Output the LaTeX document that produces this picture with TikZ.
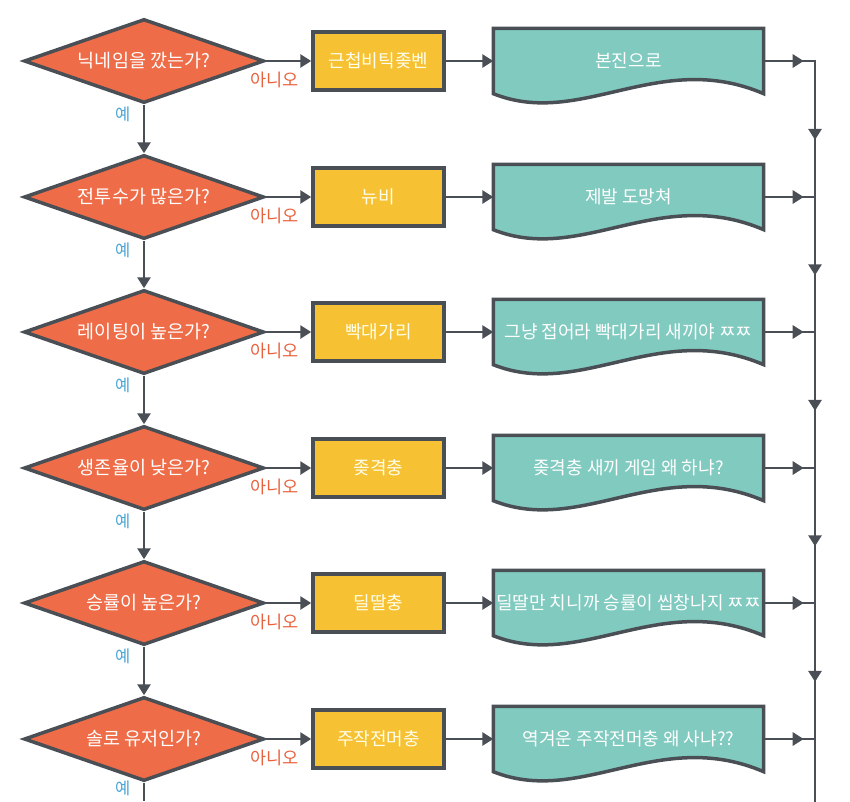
\documentclass[tikz,border=0pt]{standalone}
\usepackage{fontspec}
\usetikzlibrary{arrows.meta,backgrounds,decorations.markings,shapes.geometric}
\newfontfamily\kofont{Noto Sans CJK KR}
\definecolor{QFill}{HTML}{EE6C47}
\definecolor{BoxFill}{HTML}{F6C233}
\definecolor{DocFill}{HTML}{80CABF}
\definecolor{LineGray}{HTML}{4A4F56}
\definecolor{YesBlue}{HTML}{4BA6D6}
\definecolor{NoRed}{HTML}{E8613D}
\tikzset{
  fc question/.style={
    diamond,
    aspect=2.8,
    draw=LineGray,
    fill=QFill,
    line width=3.5pt,
    minimum width=240pt,
    minimum height=84pt,
    inner sep=0pt,
    text=white,
    font=\kofont\fontsize{18.5}{20}\selectfont
  },
  fc answer/.style={
    draw=LineGray,
    fill=BoxFill,
    line width=3.5pt,
    minimum width=131pt,
    minimum height=58pt,
    inner sep=0pt,
    text=white!92!yellow,
    font=\kofont\fontsize{18}{20}\selectfont
  },
  fc doc/.style={
    minimum width=270pt,
    minimum height=65pt,
    inner sep=0pt,
    text=white,
    font=\kofont\fontsize{18}{20}\selectfont
  },
  fc docline/.style={
    draw=LineGray,
    fill=DocFill,
    line width=3.5pt,
    line join=miter
  },
  fc flow/.style={
    -{Triangle[length=11pt,width=13pt]},
    draw=LineGray,
    line width=2.8pt
  },
  fc mid/.style={
    draw=LineGray,
    line width=2.8pt,
    line cap=rect,
    postaction={decorate},
    decoration={markings,
      mark=at position #1 with {\arrow[LineGray]{Triangle[length=11pt,width=13pt]}}}
  },
  fc yes/.style={text=YesBlue, font=\kofont\fontsize{16.5}{18}\selectfont},
  fc no/.style={text=NoRed, font=\kofont\fontsize{17.5}{19}\selectfont}
}

\begin{document}
\begin{tikzpicture}[x=1pt, y=-1pt]
  \useasboundingbox (0,0) rectangle (850,801);

  % questions
  \node[fc question] (q1) at (144,61) {닉네임을 깠는가?};
  \node[fc question] (q2) at (144,197) {전투수가 많은가?};
  \node[fc question] (q3) at (144,332) {레이팅이 높은가?};
  \node[fc question] (q4) at (144,468) {생존율이 낮은가?};
  \node[fc question] (q5) at (144,603) {승률이 높은가?};
  \node[fc question] (q6) at (144,739) {솔로 유저인가?};

  % answers
  \node[fc answer] (b1) at (378.5,61) {근첩비틱좆벤};
  \node[fc answer] (b2) at (378.5,197) {뉴비};
  \node[fc answer] (b3) at (378.5,332) {빡대가리};
  \node[fc answer] (b4) at (378.5,468) {좆격충};
  \node[fc answer] (b5) at (378.5,603) {딜딸충};
  \node[fc answer] (b6) at (378.5,739) {주작전머충};

  % documents
  \node[fc doc] (d1) at (628.5,61) {본진으로};
  \node[fc doc] (d2) at (628.5,197) {제발 도망쳐};
  \node[fc doc] (d3) at (628.5,332) {그냥 접어라 빡대가리 새끼야 ㅉㅉ};
  \node[fc doc] (d4) at (628.5,468) {좆격충 새끼 게임 왜 하냐?};
  \node[fc doc] (d5) at (628.5,603) {딜딸만 치니까 승률이 씹창나지 ㅉㅉ};
  \node[fc doc] (d6) at (628.5,739) {역겨운 주작전머충 왜 사냐??};

  \begin{scope}[on background layer]
    \foreach \i in {1,...,6} {
      \draw[fc docline] (d\i.north west) -- (d\i.north east) -- (d\i.south east)
        .. controls +(-105,-45) and +(88,35) .. (d\i.south west) -- cycle;
    }
  \end{scope}

  % right collector line
  \coordinate (r1) at (815,61);
  \coordinate (r2) at (815,197);
  \coordinate (r3) at (815,332);
  \coordinate (r4) at (815,468);
  \coordinate (r5) at (815,603);
  \coordinate (r6) at (815,739);
  \coordinate (rEnd) at (815,801);
  \coordinate (qEnd) at (144,801);

  \draw[fc flow] (q1.east) -- node[fc no,pos=0.2,below=6pt]{아니오} (b1.west);
  \draw[fc flow] (q2.east) -- node[fc no,pos=0.2,below=6pt]{아니오} (b2.west);
  \draw[fc flow] (q3.east) -- node[fc no,pos=0.2,below=6pt]{아니오} (b3.west);
  \draw[fc flow] (q4.east) -- node[fc no,pos=0.2,below=6pt]{아니오} (b4.west);
  \draw[fc flow] (q5.east) -- node[fc no,pos=0.2,below=6pt]{아니오} (b5.west);
  \draw[fc flow] (q6.east) -- node[fc no,pos=0.2,below=6pt]{아니오} (b6.west);

  \draw[fc flow] (b1.east) -- (d1.west);
  \draw[fc flow] (b2.east) -- (d2.west);
  \draw[fc flow] (b3.east) -- (d3.west);
  \draw[fc flow] (b4.east) -- (d4.west);
  \draw[fc flow] (b5.east) -- (d5.west);
  \draw[fc flow] (b6.east) -- (d6.west);

  \draw[fc flow] (q1.south) -- node[fc yes,pos=0.2,left=9pt]{예} (q2.north);
  \draw[fc flow] (q2.south) -- node[fc yes,pos=0.2,left=9pt]{예} (q3.north);
  \draw[fc flow] (q3.south) -- node[fc yes,pos=0.2,left=9pt]{예} (q4.north);
  \draw[fc flow] (q4.south) -- node[fc yes,pos=0.2,left=9pt]{예} (q5.north);
  \draw[fc flow] (q5.south) -- node[fc yes,pos=0.2,left=9pt]{예} (q6.north);
  \draw[draw=LineGray,line width=2.8pt] (q6.south) -- node[fc yes,pos=0.3,left=9pt]{예} (qEnd);

  \draw[fc mid=0.78] (d1.east) -- (r1);
  \draw[fc mid=0.78] (d2.east) -- (r2);
  \draw[fc mid=0.78] (d3.east) -- (r3);
  \draw[fc mid=0.78] (d4.east) -- (r4);
  \draw[fc mid=0.78] (d5.east) -- (r5);
  \draw[fc mid=0.78] (d6.east) -- (r6);

  \draw[fc mid=0.58] (r1) -- (r2);
  \draw[fc mid=0.58] (r2) -- (r3);
  \draw[fc mid=0.58] (r3) -- (r4);
  \draw[fc mid=0.58] (r4) -- (r5);
  \draw[fc mid=0.58] (r5) -- (r6);
  \draw[draw=LineGray,line width=2.8pt,line cap=rect] (r6) -- (rEnd);
\end{tikzpicture}
\end{document}
